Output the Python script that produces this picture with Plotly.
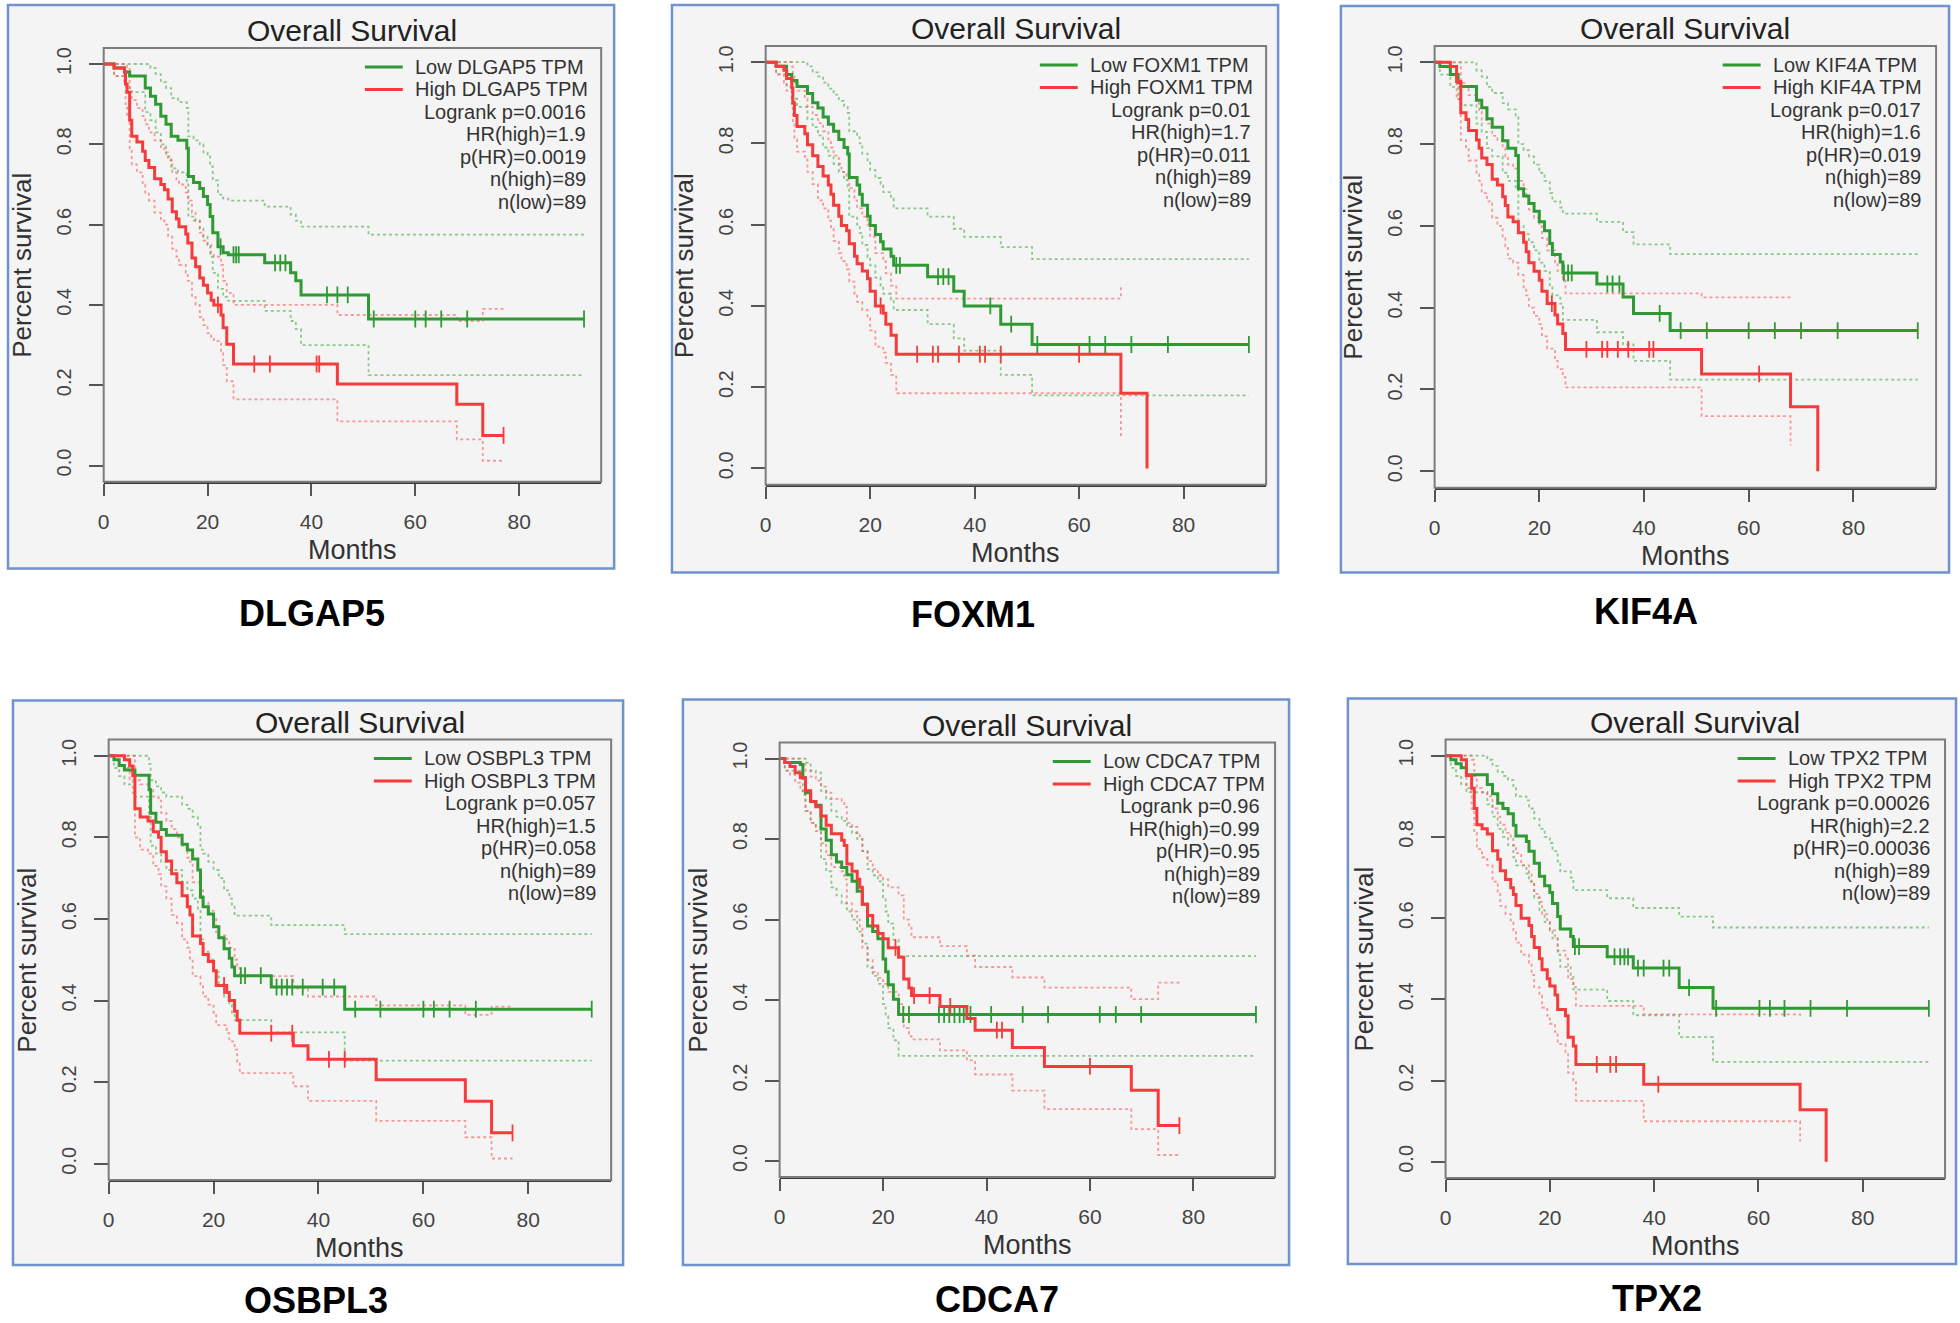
import numpy as np
import plotly.graph_objects as go

# ---------------- data ----------------
GENES = ["DLGAP5", "FOXM1", "KIF4A", "OSBPL3", "CDCA7", "TPX2"]
LOGRANK_P = ["0.0016", "0.01", "0.017", "0.057", "0.96", "0.00026"]
HR_HIGH = ["1.9", "1.7", "1.6", "1.5", "0.99", "2.2"]
P_HR = ["0.0019", "0.011", "0.019", "0.058", "0.95", "0.00036"]
N_HIGH = [89, 89, 89, 89, 89, 89]
N_LOW = [89, 89, 89, 89, 89, 89]

MONTH_TICKS = [0, 20, 40, 60, 80]
SURV_TICKS = [0, 0.2, 0.4, 0.6, 0.8, 1.0]
SURV_TICK_LABELS = ["0.0", "0.2", "0.4", "0.6", "0.8", "1.0"]

# DLGAP5
DLGAP5_LOW_T = [0, 2, 4, 5, 8, 9, 10, 11, 12, 13, 14.3, 16, 16.3, 17.3, 18.5, 19.2, 20, 20.5, 21, 22, 23, 24, 31, 36, 37, 38, 51, 92.5]
DLGAP5_LOW_S = [1, .99, .98, .97, .94, .92, .90, .87, .85, .82, .81, .79, .72, .705, .69, .67, .65, .62, .58, .545, .53, .525, .505, .48, .46, .425, .365, .365]
DLGAP5_LOW_LO = [1, .97, .95, .93, .88, .86, .83, .80, .77, .74, .73, .70, .62, .61, .59, .57, .55, .52, .48, .44, .42, .41, .385, .36, .34, .30, .225, .225]
DLGAP5_LOW_UP = [1, 1, 1, 1, 1, .99, .975, .955, .94, .915, .905, .89, .82, .81, .80, .78, .77, .745, .71, .675, .665, .66, .645, .625, .61, .595, .575, .575]
DLGAP5_LOW_CENS = [22.5, 25, 25.5, 26, 33, 34, 35, 43, 45, 47, 52, 60, 62, 65, 70, 92.5]
DLGAP5_HIGH_T = [0, 2, 4, 4.2, 4.5, 5, 5.4, 6.4, 7.5, 8, 8.7, 9.8, 11, 11.7, 12.4, 13.2, 14, 14.5, 15.8, 16.2, 17, 17.7, 18.5, 19.2, 20, 20.7, 21.2, 22.6, 23, 23.7, 25, 45, 68, 73, 77]
DLGAP5_HIGH_S = [1, .99, .98, .95, .93, .86, .82, .806, .783, .76, .742, .714, .70, .687, .664, .632, .614, .595, .577, .554, .517, .495, .467, .449, .43, .412, .40, .375, .343, .302, .253, .203, .153, .075, .075]
DLGAP5_HIGH_LO = [1, .97, .95, .90, .87, .79, .75, .73, .70, .68, .66, .63, .61, .60, .57, .54, .52, .50, .48, .46, .42, .40, .37, .35, .33, .32, .31, .28, .25, .21, .165, .11, .065, .012, .012]
DLGAP5_HIGH_UP = [1, 1, 1, 1, .99, .94, .91, .89, .87, .85, .83, .81, .79, .78, .76, .73, .71, .70, .68, .66, .63, .61, .58, .56, .55, .53, .52, .50, .46, .43, .40, .375, .36, .39, .39]
DLGAP5_HIGH_CENS = [22, 29, 32, 41, 41.5, 77]

# FOXM1
FOXM1_LOW_T = [0, 2, 4, 5, 6, 8, 9, 10, 11, 12, 13, 14, 15, 15.7, 16, 17.5, 18, 18.5, 19.5, 20, 21, 22, 22.5, 24, 24.5, 31, 36, 38, 45, 51, 92.5]
FOXM1_LOW_S = [1, .99, .97, .955, .94, .923, .90, .887, .865, .847, .83, .81, .79, .774, .716, .698, .675, .648, .621, .598, .576, .558, .54, .522, .50, .472, .436, .40, .355, .305, .305]
FOXM1_LOW_LO = [1, .97, .94, .91, .89, .86, .84, .82, .79, .77, .75, .73, .71, .69, .62, .60, .58, .55, .52, .50, .47, .45, .43, .415, .39, .355, .32, .29, .23, .18, .18]
FOXM1_LOW_UP = [1, 1, 1, 1, 1, .99, .975, .965, .95, .935, .92, .905, .89, .875, .83, .815, .80, .775, .755, .735, .715, .70, .68, .665, .64, .62, .59, .57, .545, .515, .515]
FOXM1_LOW_CENS = [25, 25.7, 33, 34, 35, 43, 47, 52, 62, 65, 70, 77, 92.5]
FOXM1_HIGH_T = [0, 2, 3.5, 4, 5, 5.2, 5.5, 6, 7.5, 8, 9, 10, 11, 12, 12.5, 13, 14, 14.5, 15.5, 16, 17, 17.5, 18.5, 19.5, 20, 21, 22.5, 23, 24, 25, 68, 73]
FOXM1_HIGH_S = [1, .99, .98, .96, .937, .90, .869, .842, .824, .797, .77, .743, .72, .698, .675, .648, .621, .598, .585, .553, .522, .504, .486, .467, .436, .40, .382, .355, .328, .281, .185, 0]
FOXM1_HIGH_LO = [1, .97, .95, .93, .89, .85, .81, .78, .76, .73, .70, .66, .64, .61, .59, .56, .53, .51, .49, .46, .43, .41, .39, .37, .34, .30, .285, .26, .23, .185, .079, None]
FOXM1_HIGH_UP = [1, 1, 1, 1, .99, .97, .95, .93, .91, .89, .87, .85, .83, .81, .79, .77, .75, .73, .72, .69, .66, .64, .62, .60, .57, .53, .51, .48, .45, .418, .449, None]
FOXM1_HIGH_CENS = [22, 29, 32, 33, 37, 41, 42, 45, 60]

# KIF4A
KIF4A_LOW_T = [0, 1, 3, 4.5, 5, 8, 9, 10, 11, 13, 14, 15.5, 16, 17, 18, 19, 20, 21, 22, 22.5, 24, 24.5, 31, 36, 38, 45, 92.3]
KIF4A_LOW_S = [1, .99, .97, .95, .941, .907, .889, .862, .841, .808, .79, .772, .691, .673, .655, .636, .61, .588, .557, .53, .512, .485, .458, .426, .386, .344, .344]
KIF4A_LOW_LO = [1, .97, .94, .91, .895, .85, .83, .79, .77, .73, .71, .69, .60, .58, .56, .54, .51, .49, .455, .43, .41, .37, .34, .31, .27, .224, .224]
KIF4A_LOW_UP = [1, 1, 1, 1, 1, .98, .965, .94, .925, .90, .885, .87, .80, .785, .77, .75, .73, .71, .68, .66, .645, .63, .61, .585, .555, .531, .531]
KIF4A_LOW_CENS = [24.7, 25.5, 26.2, 33, 34, 35.3, 43, 47, 52, 60, 65, 70, 77, 92.3]
KIF4A_HIGH_T = [0, 3, 4.2, 5, 6, 6.5, 8, 8.5, 9, 10, 11, 12, 13, 13.5, 14, 15, 16, 17, 17.5, 18, 19, 20, 20.5, 21.5, 23, 23.5, 24.5, 25, 51, 68, 73.2]
KIF4A_HIGH_S = [1, .99, .953, .877, .86, .833, .81, .79, .766, .75, .714, .70, .671, .65, .622, .61, .583, .56, .537, .51, .489, .467, .44, .41, .382, .36, .337, .298, .238, .158, 0]
KIF4A_HIGH_LO = [1, .97, .91, .81, .79, .76, .73, .71, .68, .66, .62, .60, .57, .55, .52, .51, .48, .45, .43, .40, .38, .36, .33, .30, .27, .25, .23, .205, .135, .063, None]
KIF4A_HIGH_UP = [1, 1, 1, .95, .94, .92, .90, .88, .86, .85, .82, .81, .79, .77, .75, .74, .71, .69, .67, .64, .62, .60, .57, .54, .51, .49, .47, .435, .425, .43, None]
KIF4A_HIGH_CENS = [22.4, 29, 32, 33, 35, 37, 41, 41.8, 62]

# OSBPL3
OSBPL3_LOW_T = [0, 1, 2, 3, 5, 7.7, 8, 9, 10, 11, 14, 15, 16, 17, 17.5, 18, 19, 20, 21, 22, 23, 23.5, 24, 31, 45, 92.1]
OSBPL3_LOW_S = [1, .99, .976, .965, .952, .917, .859, .837, .819, .805, .783, .769, .747, .72, .653, .63, .612, .581, .554, .527, .504, .482, .461, .433, .379, .379]
OSBPL3_LOW_LO = [1, .97, .95, .93, .90, .85, .78, .76, .74, .72, .69, .67, .65, .62, .55, .52, .50, .47, .44, .41, .39, .37, .352, .322, .253, .253]
OSBPL3_LOW_UP = [1, 1, 1, 1, 1, .98, .94, .925, .91, .90, .88, .87, .85, .83, .77, .76, .74, .72, .70, .67, .65, .63, .608, .585, .563, .563]
OSBPL3_LOW_CENS = [25.2, 26, 29, 32, 33, 34, 35, 37, 40.8, 43, 47, 51.8, 60, 62, 65, 70, 92.1]
OSBPL3_HIGH_T = [0, 3, 4, 4.6, 5, 6, 7.5, 8.5, 9.5, 10, 11, 12, 13, 14, 15, 15.5, 16, 17.5, 18, 19, 20, 20.5, 22.5, 23, 24, 24.5, 25, 35.2, 38, 51, 68, 73, 77]
OSBPL3_HIGH_S = [1, .99, .975, .951, .87, .85, .84, .814, .80, .765, .742, .711, .689, .657, .63, .61, .558, .54, .513, .496, .473, .437, .42, .40, .374, .352, .32, .289, .256, .206, .153, .076, .076]
OSBPL3_HIGH_LO = [1, .97, .94, .91, .80, .77, .76, .73, .71, .68, .65, .61, .59, .55, .53, .50, .46, .44, .41, .39, .37, .34, .32, .30, .28, .25, .222, .19, .154, .105, .065, .013, .013]
OSBPL3_HIGH_UP = [1, 1, 1, 1, .94, .93, .92, .90, .89, .86, .84, .82, .80, .78, .75, .74, .69, .67, .64, .62, .60, .56, .55, .53, .50, .48, .46, .43, .41, .388, .365, .385, .385]
OSBPL3_HIGH_CENS = [22, 31, 35, 42, 45, 77]

# CDCA7
CDCA7_LOW_T = [0, 1, 4, 4.5, 5, 6, 7, 8, 9, 10, 11, 12, 13, 14, 15, 16, 17, 18, 19, 20, 20.5, 21, 22, 23, 92.1]
CDCA7_LOW_S = [1, .99, .985, .952, .915, .893, .884, .825, .797, .761, .743, .729, .711, .695, .67, .638, .584, .57, .552, .502, .47, .438, .402, .364, .364]
CDCA7_LOW_LO = [1, .97, .95, .91, .87, .84, .83, .75, .72, .68, .66, .64, .62, .60, .57, .54, .48, .46, .44, .39, .36, .33, .30, .261, .261]
CDCA7_LOW_UP = [1, 1, 1, 1, .99, .97, .965, .92, .90, .87, .855, .845, .83, .815, .80, .77, .725, .71, .695, .65, .62, .59, .55, .509, .509]
CDCA7_LOW_CENS = [23.9, 25, 30.8, 31.8, 32.8, 33.8, 34.8, 35.6, 36.9, 40.9, 47, 51.9, 61.9, 65, 69.9, 92.1]
CDCA7_HIGH_T = [0, 1, 2, 3, 4, 5, 6, 7, 8, 9, 10, 12, 12.5, 13, 14, 15, 15.5, 16, 17, 18, 19, 20, 21, 23, 24, 25, 25.5, 31, 36.2, 37.8, 45, 51.2, 68, 73.2, 77.3]
CDCA7_HIGH_S = [1, .99, .98, .965, .952, .92, .893, .88, .857, .834, .813, .797, .784, .738, .72, .70, .68, .638, .61, .584, .565, .552, .53, .506, .452, .43, .411, .384, .354, .325, .282, .235, .176, .088, .088]
CDCA7_HIGH_LO = [1, .97, .96, .94, .92, .87, .84, .82, .79, .76, .73, .72, .70, .64, .62, .60, .58, .53, .50, .47, .455, .44, .42, .39, .33, .31, .302, .275, .25, .215, .175, .129, .079, .015, .015]
CDCA7_HIGH_UP = [1, 1, 1, 1, .99, .97, .955, .945, .93, .915, .90, .89, .88, .84, .83, .815, .80, .77, .745, .725, .71, .70, .68, .66, .60, .585, .556, .534, .51, .482, .456, .431, .402, .443, .443]
CDCA7_HIGH_CENS = [22.4, 26, 29, 33, 42, 43, 60, 77.3]

# TPX2
TPX2_LOW_T = [0, 1, 2, 3, 4, 8, 9, 10, 11, 12, 13, 13.5, 15.5, 16, 17, 18, 19, 20, 20.5, 21.5, 22, 24, 24.5, 31, 36, 44.8, 51.3, 92.7]
TPX2_LOW_S = [1, .99, .98, .97, .953, .929, .906, .883, .87, .857, .829, .802, .789, .765, .735, .703, .68, .663, .636, .604, .573, .555, .53, .505, .477, .429, .378, .378]
TPX2_LOW_LO = [1, .97, .95, .93, .91, .88, .85, .82, .80, .78, .75, .73, .71, .69, .65, .62, .59, .57, .55, .51, .48, .46, .424, .396, .361, .307, .246, .246]
TPX2_LOW_UP = [1, 1, 1, 1, 1, .99, .975, .96, .95, .94, .92, .90, .89, .87, .845, .82, .80, .785, .765, .74, .715, .70, .669, .649, .625, .604, .577, .577]
TPX2_LOW_CENS = [24.8, 25.6, 32.4, 33.5, 34.3, 35, 36.9, 38, 41.8, 42.9, 46.7, 51.9, 60.2, 62.2, 65, 70, 77, 92.7]
TPX2_HIGH_T = [0, 3, 4, 5, 5.5, 6, 7, 8, 9, 10, 10.5, 11.5, 12.5, 13, 13.5, 14.5, 16, 16.5, 17, 18, 18.5, 19.5, 20, 21, 21.5, 23, 23.5, 24.5, 25, 38, 68, 73]
TPX2_HIGH_S = [1, .99, .951, .92, .87, .83, .82, .807, .766, .745, .717, .695, .675, .658, .631, .60, .582, .555, .528, .50, .473, .451, .433, .411, .375, .36, .307, .285, .24, .191, .128, 0]
TPX2_HIGH_LO = [1, .97, .92, .87, .81, .77, .75, .73, .69, .66, .63, .61, .59, .57, .54, .51, .49, .46, .43, .41, .38, .36, .34, .32, .29, .27, .22, .20, .15, .10, .05, None]
TPX2_HIGH_UP = [1, 1, 1, .99, .95, .92, .91, .90, .87, .85, .83, .81, .795, .78, .76, .73, .71, .69, .66, .64, .61, .59, .57, .55, .52, .50, .45, .43, .384, .363, .36, None]
TPX2_HIGH_CENS = [29, 31.6, 32.7, 40.8]

CURVES = {
    "DLGAP5": {"low": (DLGAP5_LOW_T, DLGAP5_LOW_S, DLGAP5_LOW_LO, DLGAP5_LOW_UP, DLGAP5_LOW_CENS),
               "high": (DLGAP5_HIGH_T, DLGAP5_HIGH_S, DLGAP5_HIGH_LO, DLGAP5_HIGH_UP, DLGAP5_HIGH_CENS)},
    "FOXM1": {"low": (FOXM1_LOW_T, FOXM1_LOW_S, FOXM1_LOW_LO, FOXM1_LOW_UP, FOXM1_LOW_CENS),
              "high": (FOXM1_HIGH_T, FOXM1_HIGH_S, FOXM1_HIGH_LO, FOXM1_HIGH_UP, FOXM1_HIGH_CENS)},
    "KIF4A": {"low": (KIF4A_LOW_T, KIF4A_LOW_S, KIF4A_LOW_LO, KIF4A_LOW_UP, KIF4A_LOW_CENS),
              "high": (KIF4A_HIGH_T, KIF4A_HIGH_S, KIF4A_HIGH_LO, KIF4A_HIGH_UP, KIF4A_HIGH_CENS)},
    "OSBPL3": {"low": (OSBPL3_LOW_T, OSBPL3_LOW_S, OSBPL3_LOW_LO, OSBPL3_LOW_UP, OSBPL3_LOW_CENS),
               "high": (OSBPL3_HIGH_T, OSBPL3_HIGH_S, OSBPL3_HIGH_LO, OSBPL3_HIGH_UP, OSBPL3_HIGH_CENS)},
    "CDCA7": {"low": (CDCA7_LOW_T, CDCA7_LOW_S, CDCA7_LOW_LO, CDCA7_LOW_UP, CDCA7_LOW_CENS),
              "high": (CDCA7_HIGH_T, CDCA7_HIGH_S, CDCA7_HIGH_LO, CDCA7_HIGH_UP, CDCA7_HIGH_CENS)},
    "TPX2": {"low": (TPX2_LOW_T, TPX2_LOW_S, TPX2_LOW_LO, TPX2_LOW_UP, TPX2_LOW_CENS),
             "high": (TPX2_HIGH_T, TPX2_HIGH_S, TPX2_HIGH_LO, TPX2_HIGH_UP, TPX2_HIGH_CENS)},
}

# ---------------- layout / style ----------------
W, H = 1960, 1323
FONT = "Liberation Sans, Arial, Helvetica, sans-serif"
GREEN = "#2f9a33"
RED = "#f53b3b"
GREEN_CI = "rgba(70,170,70,0.6)"
RED_CI = "rgba(248,90,90,0.6)"
PANEL_FILL = "#f4f4f4"
PANEL_EDGE = "#6f93cb"

# pixel geometry: (left, top, right, bottom)
PANEL_BORDERS = [(2, 4, 610, 568), (668, 4, 1276, 572), (1339, 5, 1949, 572),
                 (7, 700, 619, 1265), (679, 699, 1287, 1265), (1346, 698, 1956, 1264)]
PANEL_BOXES = [(98, 47, 597, 481), (762, 45, 1264, 484), (1433, 45, 1936, 487),
               (103, 739, 607, 1180), (776, 742, 1273, 1177), (1444, 739, 1945, 1178)]
LEGEND_OFFSETS = [-189, -179, -166, -190, -175, -160]
GENE_LABEL_POS = [(307, 613), (970, 614), (1645, 611), (311, 1300), (994, 1299), (1656, 1298)]
ROW_OFFSETS = [19, 41.5, 64, 86.5, 109, 131.5, 154]
X_RANGE = [0, 95.8]
Y_RANGE = [-0.04, 1.04]


def pxx(x):
    return x / W


def pxy(y):
    return 1 - y / H


fig = go.Figure()
shapes = []
annotations = []
layout_axes = {}

for i, gene in enumerate(GENES):
    n = i + 1
    xa = "x" if n == 1 else f"x{n}"
    ya = "y" if n == 1 else f"y{n}"
    bl, bt, br, bb = PANEL_BOXES[i]
    pl, pt, pr, pb = PANEL_BORDERS[i]

    shapes.append(dict(type="rect", xref="paper", yref="paper",
                       x0=pxx(pl), x1=pxx(pr), y0=pxy(pb), y1=pxy(pt),
                       fillcolor=PANEL_FILL, line=dict(color=PANEL_EDGE, width=2.5),
                       layer="below"))
    shapes.append(dict(type="rect", xref=f"{xa} domain", yref=f"{ya} domain",
                       x0=0, x1=1, y0=0, y1=1,
                       line=dict(color="#7c7c7c", width=2), layer="above"))

    for grp, col, cicol in (("low", GREEN, GREEN_CI), ("high", RED, RED_CI)):
        t, s, lo, up, cens = CURVES[gene][grp]
        for band in (lo, up):
            fig.add_trace(go.Scatter(x=t, y=band, mode="lines", xaxis=xa, yaxis=ya,
                                     line=dict(shape="hv", dash="dot", width=1.8, color=cicol),
                                     connectgaps=False, hoverinfo="skip", showlegend=False))
    for grp, col in (("low", GREEN), ("high", RED)):
        t, s, lo, up, cens = CURVES[gene][grp]
        fig.add_trace(go.Scatter(x=t, y=s, mode="lines", xaxis=xa, yaxis=ya,
                                 line=dict(shape="hv", width=3, color=col),
                                 showlegend=False, name=f"{grp.capitalize()} {gene} TPM"))
        ta = np.array(t, dtype=float)
        sa = np.array(s, dtype=float)
        idx = np.searchsorted(ta, np.array(cens, dtype=float), side="right") - 1
        fig.add_trace(go.Scatter(x=cens, y=sa[idx], mode="markers", xaxis=xa, yaxis=ya,
                                 marker=dict(symbol="line-ns", size=12,
                                             line=dict(width=1.8, color=col)),
                                 showlegend=False, hoverinfo="skip"))

    xkey = "xaxis" if n == 1 else f"xaxis{n}"
    ykey = "yaxis" if n == 1 else f"yaxis{n}"
    layout_axes[xkey] = dict(domain=[pxx(bl), pxx(br)], range=X_RANGE, anchor=ya,
                             tickmode="array", tickvals=MONTH_TICKS,
                             ticktext=[str(v) for v in MONTH_TICKS],
                             ticks="outside", ticklen=12, tickwidth=1.5, tickcolor="#555",
                             showgrid=False, zeroline=False, showline=True,
                             linecolor="#3a3a3a", linewidth=2,
                             tickfont=dict(family=FONT, size=21, color="#444"),
                             ticklabelstandoff=8)
    layout_axes[ykey] = dict(domain=[pxy(bb), pxy(bt)], range=Y_RANGE, anchor=xa,
                             tickmode="array", tickvals=SURV_TICKS, ticktext=SURV_TICK_LABELS,
                             tickangle=-90, ticks="outside", ticklen=14, tickwidth=1.5,
                             tickcolor="#555", showgrid=False, zeroline=False, showline=False,
                             tickfont=dict(family=FONT, size=20, color="#444"),
                             ticklabelstandoff=10)

    cx = (bl + br) / 2
    cy = (bt + bb) / 2
    annotations.append(dict(text="Overall Survival", x=pxx(cx), y=pxy(bt - 17),
                            xref="paper", yref="paper", showarrow=False,
                            xanchor="center", yanchor="middle",
                            font=dict(family=FONT, size=30, color="#222")))
    annotations.append(dict(text="Months", x=pxx(cx), y=pxy(bb + 68),
                            xref="paper", yref="paper", showarrow=False,
                            xanchor="center", yanchor="middle",
                            font=dict(family=FONT, size=27, color="#333")))
    annotations.append(dict(text="Percent survival", x=pxx(bl - 82), y=pxy(cy),
                            xref="paper", yref="paper", showarrow=False, textangle=-90,
                            xanchor="center", yanchor="middle",
                            font=dict(family=FONT, size=26, color="#333")))

    # legend
    lx = br + LEGEND_OFFSETS[i]
    for k, (label, col) in enumerate(((f"Low {gene} TPM", GREEN), (f"High {gene} TPM", RED))):
        yy = bt + ROW_OFFSETS[k]
        shapes.append(dict(type="line", xref="paper", yref="paper",
                           x0=pxx(lx - 48), x1=pxx(lx - 10), y0=pxy(yy), y1=pxy(yy),
                           line=dict(color=col, width=3)))
        annotations.append(dict(text=label, x=pxx(lx), y=pxy(yy), xref="paper", yref="paper",
                                showarrow=False, xanchor="left", yanchor="middle",
                                font=dict(family=FONT, size=20, color="#333")))
    stats = [f"Logrank p={LOGRANK_P[i]}", f"HR(high)={HR_HIGH[i]}", f"p(HR)={P_HR[i]}",
             f"n(high)={N_HIGH[i]}", f"n(low)={N_LOW[i]}"]
    for k, txt in enumerate(stats):
        yy = bt + ROW_OFFSETS[k + 2]
        annotations.append(dict(text=txt, x=pxx(br - 13), y=pxy(yy), xref="paper", yref="paper",
                                showarrow=False, xanchor="right", yanchor="middle",
                                font=dict(family=FONT, size=20, color="#333")))

    gx, gy = GENE_LABEL_POS[i]
    annotations.append(dict(text=f"<b>{gene}</b>", x=pxx(gx), y=pxy(gy),
                            xref="paper", yref="paper", showarrow=False,
                            xanchor="center", yanchor="middle",
                            font=dict(family=FONT, size=36, color="#000")))

fig.update_layout(width=W, height=H, margin=dict(l=0, r=0, t=0, b=0),
                  paper_bgcolor="white", plot_bgcolor="rgba(0,0,0,0)",
                  showlegend=False, shapes=shapes, annotations=annotations,
                  **layout_axes)

fig.write_html("out.html", config={"displayModeBar": False},
               post_script="document.body.style.margin='0px';document.body.style.overflow='hidden';")
